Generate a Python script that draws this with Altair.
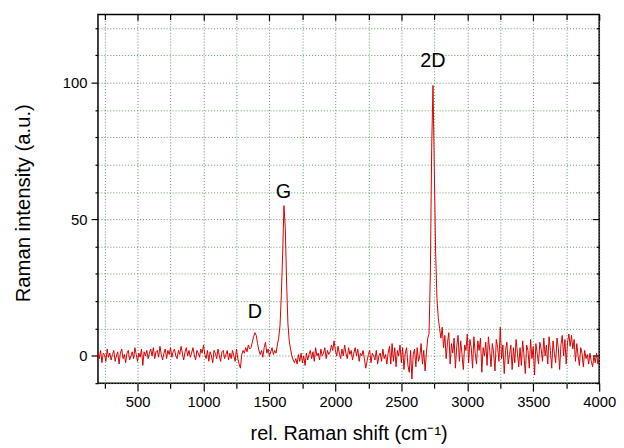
import altair as alt
import pandas as pd

FONT = "Liberation Sans"

# sampling of the spectrum (rel. Raman shift, cm^-1)
shift_start = 200
shift_step = 10

# intensity, in 400 cm^-1 segments
seg_200 = [1.5, -1.0, 2.0, -2.5, 1.0, 0.5, -2.0, 2.5, -0.5, 1.0,
           -1.5, 0.5, 2.0, -2.0, 0.0, 1.5, -3.0, 1.0, 2.5, -1.0,
           0.5, -2.5, 1.0, 2.0, -1.5, 0.0, 1.5, -1.0, 3.0, 0.5,
           -2.0, 1.0, -0.5, 2.5, -3.5, 1.5, 0.0, 2.0, -1.0, 1.0]
seg_600 = [2.5, 0.0, 3.0, -1.0, 1.5, 2.0, -0.5, 3.5, 0.5, -1.5,
           1.0, 2.5, -1.0, 2.0, 0.5, 3.0, -0.5, 1.5, 2.5, 0.0,
           -1.0, 2.0, 0.5, 3.5, 1.0, -1.5, 1.5, 3.0, 0.0, 2.0,
           -0.5, 1.0, 3.0, 0.5, -1.5, 2.0, 1.0, -0.5, 2.5, 1.0]
seg_1000 = [4.0, 0.5, -1.0, 2.0, -2.0, 1.5, 0.0, -2.5, 2.0, 1.0,
            -1.0, 2.5, 0.0, -2.0, 1.5, 2.0, -1.0, 0.5, 2.0, -1.5,
            1.0, -1.0, 2.0, 0.0, -2.0, 2.5, -1.0, -3.0, -4.5, 0.5,
            2.0, 1.0, 3.0, 1.5, 4.0, 2.5, 3.0, 5.0, 7.0, 8.5]
seg_1400 = [7.5, 4.5, 2.0, 0.5, 2.0, -0.5, 3.0, 5.0, 1.0, 2.5,
            0.0, 1.5, 3.0, 0.5, 2.0, 1.0, 4.0, 6.5, 11.0, 22.0,
            37.0, 55.0, 47.0, 27.0, 12.0, 5.5, 2.5, 0.0, -1.5, -2.5,
            -1.0, -3.0, 0.5, -2.0, 1.0, -2.5, 0.0, -3.5, 1.0, -1.5]
seg_1800 = [0.5, 2.0, -1.0, 1.5, -2.0, 3.0, 0.0, 1.0, -1.5, 2.5,
            0.0, 1.0, 3.0, -1.0, 2.0, 0.5, 1.5, 4.0, 2.0, 5.5,
            2.0, 0.0, 3.5, 1.0, -1.0, 2.5, 0.0, 4.0, 1.0, -1.0,
            3.0, 0.5, 2.0, -1.5, 1.0, 3.0, 0.0, 2.5, -2.0, 1.0]
seg_2200 = [0.0, 2.0, -1.0, -4.5, -2.0, 0.5, 2.0, -2.5, 1.0, 0.0,
            -1.5, 2.0, -3.0, 0.0, 1.0, -2.0, 2.5, -1.0, 0.5, -3.0,
            1.0, 3.5, -3.0, 4.5, -2.0, 3.0, -4.0, 2.0, 0.0, 4.0,
            -2.5, 3.0, -5.0, 1.0, 3.0, -3.5, -6.0, 2.0, -8.5, 0.5]
seg_2600 = [2.5, -4.0, 3.0, -2.0, 0.0, 4.5, -3.0, 2.0, -5.5, 1.0,
            6.5, 8.0, 30.0, 76.0, 99.0, 68.0, 38.0, 21.0, 14.0, 10.0,
            6.5, 10.5, 3.0, 7.5, -1.0, 5.0, 8.5, -3.0, 4.5, 1.0,
            6.5, -4.5, 3.5, 7.5, -2.0, 5.5, 0.5, -5.0, 4.0, 2.0]
seg_3000 = [8.0, -2.5, 6.0, 3.0, -4.5, 7.0, 1.0, -3.0, 5.5, 2.0,
            6.5, -6.0, 3.0, 0.0, 5.0, -3.5, 7.0, 2.0, -4.0, 4.5,
            1.0, -5.5, 6.0, 3.0, -2.0, 10.5, -1.0, 4.0, -6.5, 2.0,
            5.0, -3.0, 0.5, 4.0, -5.0, 3.0, -2.5, 6.0, 1.0, -4.0]
seg_3400 = [3.0, -3.5, 5.5, 0.0, -6.5, 4.0, 2.0, -4.5, 6.0, -1.0,
            3.5, -7.0, 4.5, 1.0, -3.0, 5.0, 2.5, -2.0, 6.5, 0.0,
            4.0, -3.0, 7.0, 2.0, -4.5, 5.5, 1.0, -2.5, 6.5, 3.0,
            -5.0, 4.0, 7.5, 0.0, 6.0, -3.0, 5.0, 8.0, 3.5, 7.5]
seg_3800 = [2.5, 6.0, -2.0, 4.5, 0.0, -3.5, 3.0, 1.0, -4.0, 2.0,
            -1.0, 0.5, -3.0, 1.0, -2.0, -4.0, 0.0, -2.5, 1.0, -3.0, -1.0]

intensity = (seg_200 + seg_600 + seg_1000 + seg_1400 + seg_1800
             + seg_2200 + seg_2600 + seg_3000 + seg_3400 + seg_3800)
shift = [shift_start + shift_step * i for i in range(len(intensity))]

# axes
x_domain = [200, 4000]
y_domain = [-10, 125]
x_tick_values = [250, 500, 750, 1000, 1250, 1500, 1750, 2000, 2250, 2500,
                 2750, 3000, 3250, 3500, 3750, 4000]
y_tick_values = [-10, 0, 10, 20, 30, 40, 50, 60, 70, 80, 90, 100, 110, 120]

# peak annotations
peak_names = ["D", "G", "2D"]
peak_shift = [1389, 1607, 2739]
peak_label_y = [16, 60, 108]

W, H = 507, 373

df = pd.DataFrame({"shift": shift, "intensity": intensity})
labels_df = pd.DataFrame({"name": peak_names, "shift": peak_shift, "y": peak_label_y})

major_x = "datum.value % 500 === 0"
major_y = "datum.value % 50 === 0"
GRID_MAJOR = "#7a7a7a"
GRID_MINOR = "#5c9c5c"

x_scale = alt.Scale(domain=x_domain, nice=False, zero=False)
y_scale = alt.Scale(domain=y_domain, nice=False, zero=False)

x_axis = alt.Axis(
    values=x_tick_values, format="d",
    labelExpr=f"{major_x} ? datum.label : ''",
    labelFlush=False, labelOverlap=False,
    grid=True,
    gridColor={"condition": {"test": major_x, "value": GRID_MAJOR}, "value": GRID_MINOR},
    gridDash=[1, 2], gridWidth=1, domain=False,
    tickColor="black", tickWidth=1.2,
    tickSize={"condition": {"test": major_x, "value": 8}, "value": 5},
    labelFont=FONT, labelFontSize=15, labelColor="black", labelPadding=4,
    title="rel. Raman shift (cm⁻¹)", titleFont=FONT, titleFontSize=20,
    titleFontWeight="normal", titleColor="black", titlePadding=14,
)
y_axis = alt.Axis(
    values=y_tick_values,
    labelExpr=f"{major_y} ? datum.label : ''",
    labelFlush=False, labelOverlap=False,
    grid=True,
    gridColor={"condition": {"test": major_y, "value": GRID_MAJOR}, "value": GRID_MINOR},
    gridDash=[1, 2], gridWidth=1, domain=False,
    tickColor="black", tickWidth=1.2,
    tickSize={"condition": {"test": major_y, "value": 7}, "value": 3},
    labelFont=FONT, labelFontSize=15, labelColor="black", labelPadding=4,
    title="Raman intensity (a.u.)", titleFont=FONT, titleFontSize=20.5,
    titleFontWeight="normal", titleColor="black", titlePadding=29,
    titleY=H / 2 + 4,
)

# mirrored inward ticks on top and right edges
x_axis_top = alt.Axis(
    orient="bottom", offset=-H, values=x_tick_values, labels=False, grid=False,
    domain=False, title="", tickColor="black", tickWidth=1.2,
    tickSize={"condition": {"test": major_x, "value": 6}, "value": 5},
)
y_axis_right = alt.Axis(
    orient="left", offset=-W, values=y_tick_values, labels=False, grid=False,
    domain=False, title="", tickColor="black", tickWidth=1.2,
    tickSize={"condition": {"test": major_y, "value": 7}, "value": 3},
)

line = alt.Chart(df).mark_line(color="#d40000", strokeWidth=1, clip=True).encode(
    x=alt.X("shift:Q", scale=x_scale, axis=x_axis),
    y=alt.Y("intensity:Q", scale=y_scale, axis=y_axis),
)

text = alt.Chart(labels_df).mark_text(
    font=FONT, fontSize=20, color="black", align="center", baseline="middle"
).encode(
    x=alt.X("shift:Q", scale=x_scale, axis=x_axis_top),
    y=alt.Y("y:Q", scale=y_scale, axis=y_axis_right),
    text="name:N",
)

chart = (
    alt.layer(line, text)
    .resolve_axis(x="independent", y="independent")
    .properties(
        width=W, height=H,
        autosize=alt.AutoSizeParams(type="none"),
        padding={"left": 91, "top": 4, "right": 17, "bottom": 60},
        background="white",
    )
    .configure_view(stroke="black", strokeWidth=1.5)
)

chart.save("out.html", embed_options={"renderer": "svg", "actions": False})
